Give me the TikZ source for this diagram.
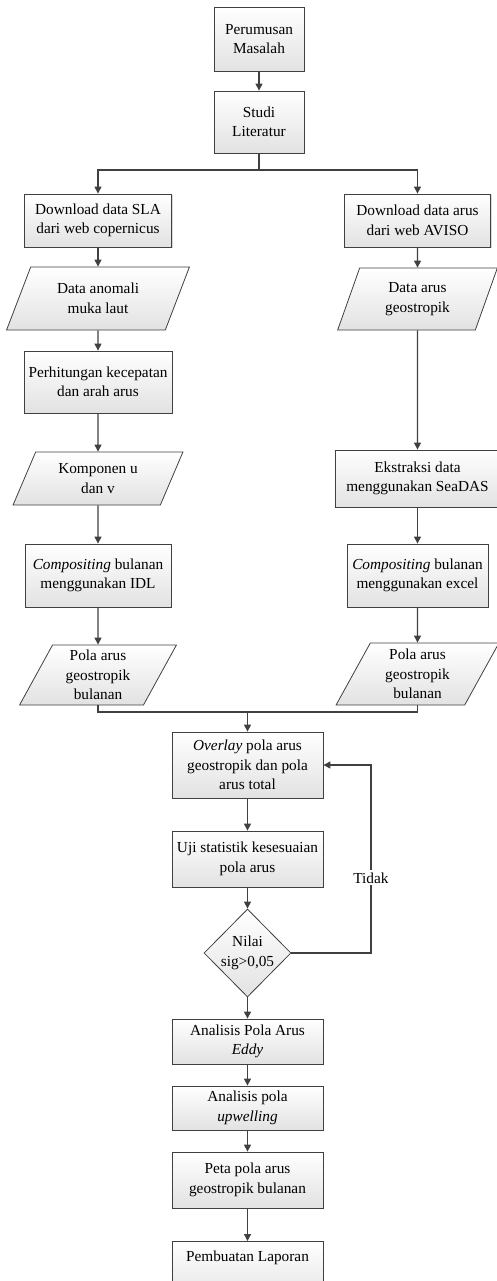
\documentclass[tikz,border=0pt]{standalone}
\usepackage{fontspec}
\setmainfont{Liberation Serif}
\usetikzlibrary{arrows.meta}
\usetikzlibrary{shapes.geometric}
\usetikzlibrary{shadows}
\definecolor{garis}{RGB}{64,64,64}
\definecolor{isi}{RGB}{226,226,226}
\tikzset{Panah/.style={draw=garis, line width=1.1pt, -{Triangle[length=7pt,width=7pt]}}}

\begin{document}
\begin{tikzpicture}[x=1pt, y=-1pt,
    every node/.style={font=\fontsize{15.3}{19.5}\selectfont, align=center},
    Proses/.style={rectangle, draw=garis, line width=0.8pt, top color=white, bottom color=isi, inner sep=1pt,
        drop shadow={shadow xshift=1.2pt, shadow yshift=-1.2pt, opacity=0.3}},
    Data/.style={trapezium, trapezium left angle=65, trapezium right angle=115, trapezium stretches=true,
        draw=garis, line width=0.8pt, top color=white, bottom color=isi, inner sep=1pt},
    Keputusan/.style={diamond, draw=garis, line width=0.8pt, top color=white, bottom color=isi, inner sep=0pt,
        minimum width=87, minimum height=88},
    Garis/.style={draw=garis, line width=1.1pt}]
        \useasboundingbox (0,0) rectangle (496,1281);

        \node[Proses, minimum width=90, minimum height=64] (rumus) at (259,39) {Perumusan\\Masalah};
        \node[Proses, minimum width=90, minimum height=62] (studi) at (259,122) {Studi\\Literatur};
        \node[Proses, minimum width=147, minimum height=53] (dsla) at (98,220.5) {Download data SLA\\dari web copernicus};
        \node[Proses, minimum width=146, minimum height=53] (daviso) at (417.5,220.5) {Download data arus\\dari web AVISO};
        \node[Data, minimum width=183, minimum height=63] (anomali) at (98,298.5) {Data anomali\\muka laut};
        \node[Data, minimum width=161, minimum height=62, trapezium left angle=70, trapezium right angle=110] (geo) at (417.5,299) {Data arus\\geostropik};
        \node[Proses, minimum width=148, minimum height=62] (hitung) at (98,382) {Perhitungan kecepatan\\dan arah arus};
        \node[Data, minimum width=170, minimum height=53] (komponen) at (98,478.5) {Komponen u\\dan v};
        \node[Proses, minimum width=165, minimum height=57] (ekstrak) at (417.5,478.5) {Ekstraksi data\\menggunakan SeaDAS};
        \node[Proses, minimum width=146, minimum height=63] (compidl) at (98,575.5) {\textit{Compositing} bulanan\\menggunakan IDL};
        \node[Proses, minimum width=141, minimum height=63] (compxl) at (417.5,575.5) {\textit{Compositing} bulanan\\menggunakan excel};
        \node[Data, minimum width=157, minimum height=60] (polakiri) at (98,675) {Pola arus\\geostropik\\bulanan};
        \node[Data, minimum width=163, minimum height=62] (polakanan) at (417.5,674) {Pola arus\\geostropik\\bulanan};
        \node[Proses, minimum width=151, minimum height=66] (overlay) at (247.5,765) {\textit{Overlay} pola arus\\geostropik dan pola\\arus total};
        \node[Proses, minimum width=151, minimum height=56] (uji) at (247.5,859) {Uji statistik kesesuaian\\pola arus};
        \node[Keputusan] (nilai) at (247.5,953) {Nilai\\sig>0,05};
        \node[Proses, minimum width=151, minimum height=45] (eddy) at (247.5,1041.5) {Analisis Pola Arus\\\textit{Eddy}};
        \node[Proses, minimum width=151, minimum height=44] (upw) at (247.5,1108) {Analisis pola\\\textit{upwelling}};
        \node[Proses, minimum width=151, minimum height=56] (peta) at (247.5,1180) {Peta pola arus\\geostropik bulanan};
        \node[Proses, minimum width=151, anchor=north, text height=19pt, text depth=40pt] (lapor) at (247.5,1241) {Pembuatan Laporan};

        \coordinate (cabang) at (259,170);
        \coordinate (gabung) at (247.5,712);
        \coordinate (balik) at (371,765);

        \draw[Panah] (rumus) -- (studi);
        \draw[Garis] (studi) -- (cabang);
        \draw[Panah] (cabang) -| (dsla);
        \draw[Panah] (cabang) -| (daviso);
        \draw[Panah] (dsla) -- (anomali);
        \draw[Panah] (anomali) -- (hitung);
        \draw[Panah] (hitung) -- (komponen);
        \draw[Panah] (komponen) -- (compidl);
        \draw[Panah] (compidl) -- (polakiri);
        \draw[Panah] (daviso) -- (geo);
        \draw[Panah] (geo) -- (ekstrak);
        \draw[Panah] (ekstrak) -- (compxl);
        \draw[Panah] (compxl) -- (polakanan);
        \draw[Garis] (polakiri) |- (gabung);
        \draw[Garis] (polakanan) |- (gabung);
        \draw[Panah] (gabung) -- (overlay);
        \draw[Panah] (overlay) -- (uji);
        \draw[Panah] (uji) -- (nilai);
        \draw[Panah] (nilai.east) -| node[pos=0.7, fill=white, inner sep=2pt] (tidak) {Tidak} (balik) -- (overlay);
        \draw[Panah] (nilai) -- (eddy);
        \draw[Panah] (eddy) -- (upw);
        \draw[Panah] (upw) -- (peta);
        \draw[Panah] (peta) -- (lapor);
    \end{tikzpicture}
\end{document}
